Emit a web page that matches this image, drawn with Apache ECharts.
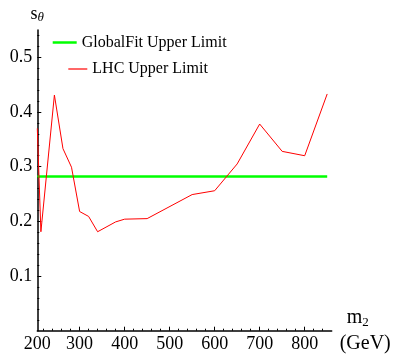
<!DOCTYPE html>
<html>
<head>
<meta charset="utf-8">
<script src="https://cdn.jsdelivr.net/npm/echarts@6/dist/echarts.min.js"></script>
<style>html,body{margin:0;padding:0;background:#fff}#c{width:394px;height:354px}</style>
</head>
<body>
<div id="c"></div>
<script>
// ---- data ----
var m2Values = [206, 214, 244, 263, 282, 300, 320, 340, 380, 400, 450, 550, 600, 650, 700, 750, 800, 850];
var lhcLimit = [0.37, 0.181, 0.431, 0.333, 0.299, 0.218, 0.209, 0.181, 0.199, 0.204, 0.205, 0.249, 0.256, 0.305, 0.378, 0.328, 0.320, 0.433];
var globalFitX = [206, 850];
var globalFitValue = 0.282;
var xTickLabels = [206, 300, 400, 500, 600, 700, 800];
var xTickNames = ['200', '300', '400', '500', '600', '700', '800'];
var xMinorTicks = [220,240,260,280,320,340,360,380,420,440,460,480,520,540,560,580,620,640,660,680,720,740,760,780,820,840];
var yTickLabels = [0.1, 0.2, 0.3, 0.4, 0.5];
var yMinorTicks = [0.02,0.04,0.06,0.08,0.12,0.14,0.16,0.18,0.22,0.24,0.26,0.28,0.32,0.34,0.36,0.38,0.42,0.44,0.46,0.48,0.52,0.54];
var seriesNames = ['GlobalFit Upper Limit', 'LHC Upper Limit'];

var FONT = '"Liberation Serif", "DejaVu Serif", serif';
var lhcData = m2Values.map(function (x, i) { return [x, lhcLimit[i]]; });
var gfData = globalFitX.map(function (x) { return [x, globalFitValue]; });

var chart = echarts.init(document.getElementById('c'));
var axisLine = { show: true, lineStyle: { color: '#000', width: 1.5 } };
var legendText = { fontFamily: FONT, fontSize: 16, color: '#000' };
chart.setOption({
  animation: false,
  backgroundColor: '#fff',
  textStyle: { fontFamily: FONT },
  grid: { left: 37.3, right: 62.3, top: 30, bottom: 23.3, containLabel: false },
  legend: [
    { data: [{ name: seriesNames[0], textStyle: legendText }], left: 52.7, top: 34.5, icon: 'rect', itemWidth: 24, itemHeight: 2.5,
      textStyle: legendText, padding: 0 },
    { data: [{ name: seriesNames[1], textStyle: legendText }], left: 68.3, top: 61, icon: 'rect', itemWidth: 19, itemHeight: 1.2,
      textStyle: legendText, padding: 0 }
  ],
  xAxis: [
    { type: 'value', min: 206, max: 860, position: 'bottom',
      axisLine: axisLine,
      axisTick: { show: true, inside: true, length: 4, customValues: xTickLabels.slice(1), lineStyle: { color: '#000', width: 1 } },
      axisLabel: { customValues: xTickLabels, margin: 5, color: '#000', fontFamily: FONT, fontSize: 18,
        formatter: function (v) { var i = xTickLabels.indexOf(v); return i >= 0 ? xTickNames[i] : ''; } },
      splitLine: { show: false },
      name: '{m|m}{d|2}\n{g|(GeV)}', nameLocation: 'end', nameGap: 8,
      nameTextStyle: { align: 'left', verticalAlign: 'middle', fontFamily: FONT, rich: {
        m: { fontFamily: FONT, fontSize: 20, color: '#000', lineHeight: 26, padding: [0, 0, 0, 7] },
        d: { fontFamily: FONT, fontSize: 13, color: '#000', lineHeight: 26, padding: [9, 0, 0, 0] },
        g: { fontFamily: FONT, fontSize: 20, color: '#000', lineHeight: 26 } } } },
    { type: 'value', min: 206, max: 860, position: 'bottom',
      axisLine: { show: false },
      axisTick: { show: true, inside: true, length: 2, customValues: xMinorTicks, lineStyle: { color: '#000', width: 1 } },
      axisLabel: { show: false }, splitLine: { show: false } }
  ],
  yAxis: [
    { type: 'value', min: 0, max: 0.55, position: 'left',
      axisLine: axisLine,
      axisTick: { show: true, inside: true, length: 4, customValues: yTickLabels, lineStyle: { color: '#000', width: 1 } },
      axisLabel: { customValues: yTickLabels, margin: 5, color: '#000', fontFamily: FONT, fontSize: 18,
        formatter: function (v) { return v.toFixed(1); } },
      splitLine: { show: false },
      name: '{s|s}{t|θ}', nameLocation: 'end', nameGap: 6,
      nameTextStyle: { fontFamily: FONT, rich: {
        s: { fontFamily: FONT, fontSize: 18, color: '#000' },
        t: { fontFamily: FONT, fontSize: 13, fontStyle: 'italic', color: '#000', padding: [6, 0, 0, 0] } } } },
    { type: 'value', min: 0, max: 0.55, position: 'left', offset: 0,
      axisLine: { show: false },
      axisTick: { show: true, inside: true, length: 2, customValues: yMinorTicks, lineStyle: { color: '#000', width: 1 } },
      axisLabel: { show: false }, splitLine: { show: false } }
  ],
  series: [
    { name: seriesNames[0], type: 'line', data: gfData, symbol: 'none', z: 2,
      lineStyle: { color: '#00ff00', width: 2.5 }, itemStyle: { color: '#00ff00' } },
    { name: seriesNames[1], type: 'line', data: lhcData, symbol: 'none', z: 3,
      lineStyle: { color: '#ff0000', width: 1 }, itemStyle: { color: '#ff0000' } }
  ]
});
</script>
</body>
</html>
